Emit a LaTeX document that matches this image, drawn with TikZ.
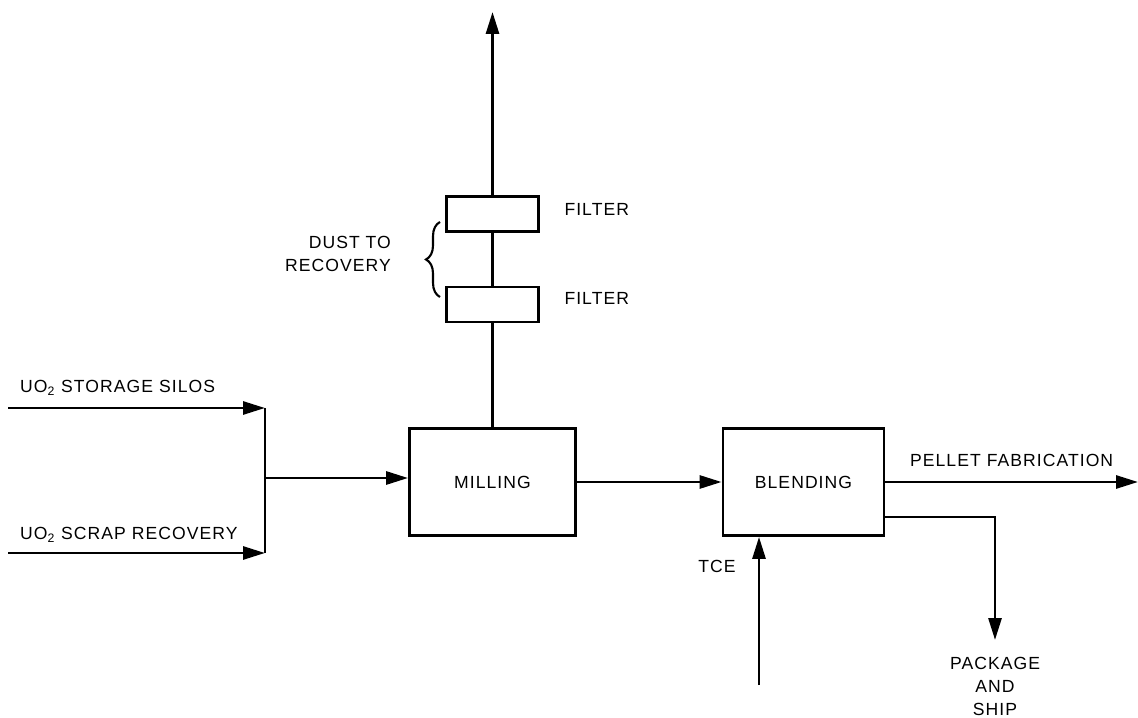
\documentclass[tikz,border=0pt]{standalone}
\usepackage{fontspec}
\setmainfont[LetterSpace=6]{Liberation Sans}
\usetikzlibrary{arrows.meta,positioning,decorations.pathreplacing}
\tikzset{
  unit/.style={draw, line width=1.6pt, align=center, minimum width=3.32cm, minimum height=2.14cm, font=\fontsize{10}{12}\selectfont},
  filterbox/.style={draw, line width=1.6pt, minimum width=1.84cm, minimum height=0.7cm, inner sep=0pt},
  lbl/.style={font=\fontsize{10}{13}\selectfont, inner sep=1pt},
  pipe/.style={line width=1.6pt},
  flow/.style={line width=1.6pt, -{Triangle[length=4.4mm,width=2.6mm]}},
  dustbrace/.style={decorate, decoration={brace, amplitude=0.28cm}, line width=1.2pt}
}

\begin{document}
\begin{tikzpicture}
  \useasboundingbox (0,0) rectangle (22.76,-14.36);
  \node[unit] (mill) at (9.85,-9.64) {MILLING};
  \node[unit, minimum width=3.22cm] (blend) at (16.07,-9.64) {BLENDING};
  \node[filterbox] (lofilt) at (9.85,-6.09) {};
  \node[filterbox] (upfilt) at (9.85,-4.28) {};
  \node[lbl, right=0.45cm of upfilt, yshift=0.1cm] (uplbl) {FILTER};
  \node[lbl, right=0.45cm of lofilt, yshift=0.12cm] (lolbl) {FILTER};
  \coordinate (vent) at (9.85,-0.24);
  \draw[pipe] (mill) -- (lofilt);
  \draw[pipe] (lofilt) -- (upfilt);
  \draw[flow] (upfilt) -- (vent);

  % dust taken off between the filters
  \coordinate (dustlo) at (8.8,-5.94);
  \coordinate (dusthi) at (8.8,-4.44);
  \draw[dustbrace] (dustlo) -- (dusthi);
  \node[lbl, align=right, anchor=east] (dust) at (7.86,-5.08) {DUST TO\\RECOVERY};

  % feeds
  \coordinate (silos) at (0.16,-8.16);
  \coordinate (scrap) at (0.16,-11.06);
  \coordinate (merge) at (5.3,-9.56);
  \draw[flow] (silos) -- (silos -| merge);
  \draw[flow] (scrap) -- (scrap -| merge);
  \draw[pipe] (silos -| merge) -- (scrap -| merge);
  \draw[flow] (merge) -- (merge -| mill.west);
  \node[lbl, anchor=west] (siloslbl) at (0.36,-7.76) {UO\textsubscript{2} STORAGE SILOS};
  \node[lbl, anchor=west] (scraplbl) at (0.36,-10.7) {UO\textsubscript{2} SCRAP RECOVERY};

  \draw[flow] (mill) -- (blend);

  % products
  \coordinate (pellet) at (22.76,-9.64);
  \draw[flow] (blend.east |- pellet) -- (pellet);
  \node[lbl, anchor=west] (pelletlbl) at (18.16,-9.2) {PELLET FABRICATION};
  \coordinate (ship) at (19.9,-12.8);
  \draw[flow] ([yshift=-0.7cm]blend.east) -| (ship);
  \node[lbl, align=center, below=0.3cm of ship] (shiplbl) {PACKAGE\\AND\\SHIP};

  \coordinate (tce) at (15.18,-13.7);
  \draw[flow] (tce) -- (tce |- blend.south);
  \node[lbl] (tcelbl) at (14.34,-11.32) {TCE};
\end{tikzpicture}
\end{document}
